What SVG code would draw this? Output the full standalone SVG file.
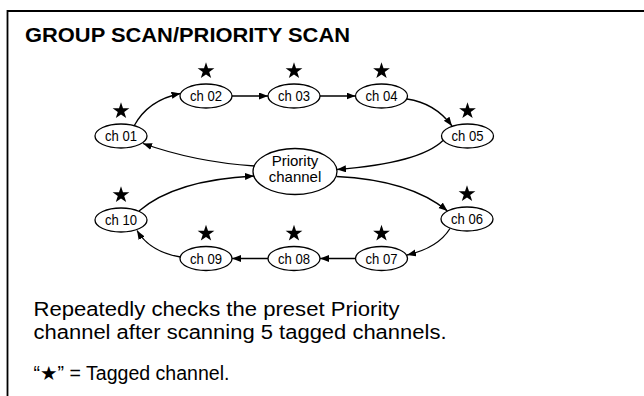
<svg xmlns="http://www.w3.org/2000/svg" width="644" height="396" viewBox="0 0 644 396">
<style>
.frame{fill:none;stroke:#000;stroke-width:1.8}
.node ellipse{fill:#fff;stroke:#000;stroke-width:1.3}
.lbl{font-family:"Liberation Sans",Arial,sans-serif;font-size:14px;fill:#000;text-anchor:middle}
.plbl{font-family:"Liberation Sans",Arial,sans-serif;font-size:15px;fill:#000;text-anchor:middle}
.conn path{fill:none;stroke:#000;stroke-width:1.3;marker-end:url(#ah)}
.title{font-family:"Liberation Sans",Arial,sans-serif;font-size:20px;font-weight:bold;fill:#000}
.body{font-family:"Liberation Sans",Arial,"DejaVu Sans",sans-serif;font-size:20px;fill:#000}
.star{fill:#000}
</style>
<defs>
<marker id="ah" markerUnits="userSpaceOnUse" markerWidth="10" markerHeight="8" refX="9" refY="3.5" orient="auto">
<path d="M0,0 L9,3.5 L0,7 Z" fill="#000"/>
</marker>
<path id="st" d="M0,-8.8 L2,-2.75 L8.37,-2.72 L3.23,1.05 L5.17,7.12 L0,3.4 L-5.17,7.12 L-3.23,1.05 L-8.37,-2.72 L-2,-2.75 Z"/>
</defs>
<rect width="644" height="396" fill="#fff"/>
<path class="frame" d="M7.5,396 V11 H644"/>
<text class="title" x="25" y="41.5" textLength="325" lengthAdjust="spacingAndGlyphs">GROUP SCAN/PRIORITY SCAN</text>

<g id="connectors" class="conn">
<path d="M134,126 Q148,100 180.5,93.5"/>
<path d="M232,96 H268"/>
<path d="M320,96 H355.5"/>
<path d="M407,99 Q435,103 452,126"/>
<path d="M443,140.5 Q420,163 337,169.5"/>
<path d="M254.5,166 Q195,162 143,143.5"/>
<path d="M139,211 Q175,180 254,176"/>
<path d="M336.5,176.5 Q410,180 447.5,211"/>
<path d="M450,228.5 Q438,248 407,255"/>
<path d="M355.5,258.5 H320"/>
<path d="M268,258.5 H232"/>
<path d="M180.5,257 Q150,252 137,230.5"/>
</g>

<g id="priority" class="node">
<ellipse cx="295" cy="171.5" rx="42" ry="23"/>
<text class="plbl" x="295" y="166">Priority</text>
<text class="plbl" x="295" y="182">channel</text>
</g>
<g id="ch01" class="node">
<ellipse cx="121" cy="136" rx="26" ry="12"/>
<text class="lbl" x="121" y="141" textLength="32" lengthAdjust="spacingAndGlyphs">ch 01</text>
<use href="#st" x="121" y="111" class="star"/>
</g>
<g id="ch02" class="node">
<ellipse cx="206" cy="96" rx="26" ry="12"/>
<text class="lbl" x="206" y="101" textLength="32" lengthAdjust="spacingAndGlyphs">ch 02</text>
<use href="#st" x="206" y="71" class="star"/>
</g>
<g id="ch03" class="node">
<ellipse cx="294" cy="96" rx="26" ry="12"/>
<text class="lbl" x="294" y="101" textLength="32" lengthAdjust="spacingAndGlyphs">ch 03</text>
<use href="#st" x="294" y="71" class="star"/>
</g>
<g id="ch04" class="node">
<ellipse cx="381.5" cy="96" rx="26" ry="12"/>
<text class="lbl" x="381.5" y="101" textLength="32" lengthAdjust="spacingAndGlyphs">ch 04</text>
<use href="#st" x="381.5" y="71" class="star"/>
</g>
<g id="ch05" class="node">
<ellipse cx="467.5" cy="136" rx="26" ry="12"/>
<text class="lbl" x="467.5" y="141" textLength="32" lengthAdjust="spacingAndGlyphs">ch 05</text>
<use href="#st" x="467.5" y="111" class="star"/>
</g>
<g id="ch06" class="node">
<ellipse cx="467" cy="219" rx="26" ry="12"/>
<text class="lbl" x="467" y="224" textLength="32" lengthAdjust="spacingAndGlyphs">ch 06</text>
<use href="#st" x="467" y="194" class="star"/>
</g>
<g id="ch07" class="node">
<ellipse cx="381.5" cy="258.5" rx="26" ry="12"/>
<text class="lbl" x="381.5" y="263.5" textLength="32" lengthAdjust="spacingAndGlyphs">ch 07</text>
<use href="#st" x="381.5" y="233.5" class="star"/>
</g>
<g id="ch08" class="node">
<ellipse cx="294" cy="258.5" rx="26" ry="12"/>
<text class="lbl" x="294" y="263.5" textLength="32" lengthAdjust="spacingAndGlyphs">ch 08</text>
<use href="#st" x="294" y="233.5" class="star"/>
</g>
<g id="ch09" class="node">
<ellipse cx="206" cy="258.5" rx="26" ry="12"/>
<text class="lbl" x="206" y="263.5" textLength="32" lengthAdjust="spacingAndGlyphs">ch 09</text>
<use href="#st" x="206" y="233.5" class="star"/>
</g>
<g id="ch10" class="node">
<ellipse cx="121" cy="220" rx="26" ry="12"/>
<text class="lbl" x="121" y="225" textLength="32" lengthAdjust="spacingAndGlyphs">ch 10</text>
<use href="#st" x="121" y="195" class="star"/>
</g>

<text class="body" x="33.5" y="316" textLength="366" lengthAdjust="spacingAndGlyphs">Repeatedly checks the preset Priority</text>
<text class="body" x="33.5" y="338.5" textLength="413" lengthAdjust="spacingAndGlyphs">channel after scanning 5 tagged channels.</text>
<text class="body" x="33.5" y="380" style="font-size:19.5px" textLength="196" lengthAdjust="spacingAndGlyphs">“★” = Tagged channel.</text>
</svg>
